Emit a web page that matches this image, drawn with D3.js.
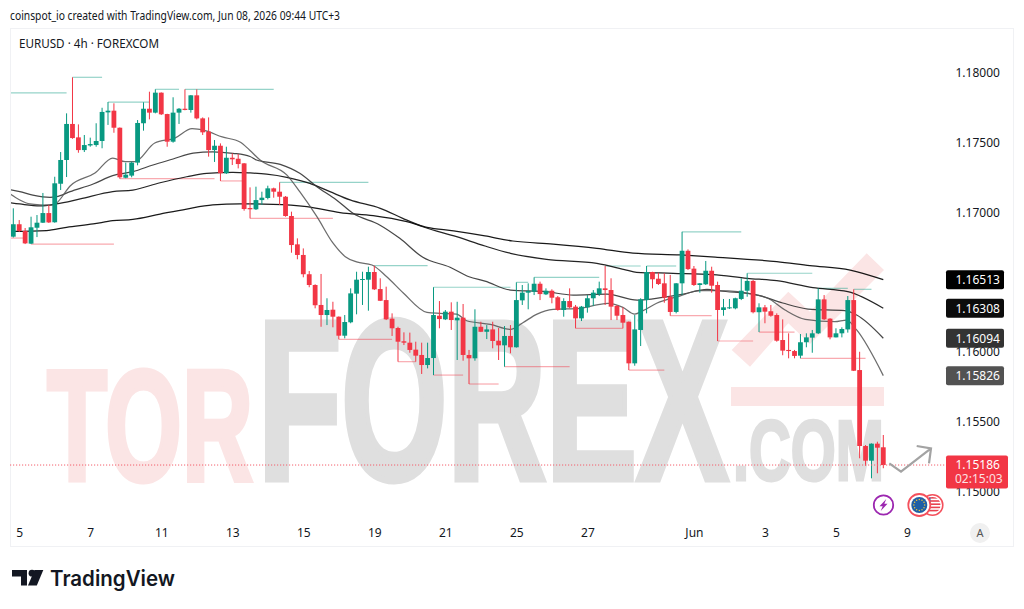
<!DOCTYPE html>
<html>
<head>
<meta charset="utf-8">
<title>EURUSD 4h</title>
<script src="https://cdn.jsdelivr.net/npm/d3@7/dist/d3.min.js"></script>
<style>
html,body{margin:0;padding:0;background:#fff;}
svg{display:block;}
text{font-family:"Noto Sans",sans-serif;fill:#131722;}
.domain{display:none;}
</style>
</head>
<body>
<svg id="chart" width="1024" height="609"></svg>
<script>
// EURUSD 4h candles, oldest first
const opens = [
1.16821,1.16910,1.16862,1.16771,1.16885,1.16921,1.16990,1.16924,1.17200,1.17370,
1.17628,1.17532,1.17441,1.17474,1.17477,1.17506,1.17711,1.17723,1.17601,1.17243,
1.17258,1.17351,1.17633,1.17737,1.17709,1.17852,1.17699,1.17501,1.17709,1.17737,
1.17728,1.17833,1.17668,1.17573,1.17441,1.17472,1.17275,1.17386,1.17379,1.17346,
1.17026,1.17017,1.17083,1.17098,1.17167,1.17143,1.17107,1.16969,1.16766,1.16690,
1.16552,1.16475,1.16332,1.16260,1.16298,1.16248,1.16112,1.16208,1.16413,1.16513,
1.16513,1.16568,1.16446,1.16367,1.16234,1.16167,1.16072,1.16062,1.16012,1.15974,
1.15902,1.15952,1.16255,1.16229,1.16284,1.16222,1.16241,1.15974,1.15950,1.16176,
1.16140,1.16157,1.16076,1.16043,1.16110,1.16029,1.16365,1.16420,1.16427,1.16484,
1.16408,1.16434,1.16387,1.16296,1.16360,1.16320,1.16236,1.16315,1.16380,1.16410,
1.16451,1.16439,1.16325,1.16260,1.16212,1.15914,1.16153,1.16367,1.16568,1.16520,
1.16487,1.16391,1.16282,1.16487,1.16720,1.16592,1.16475,1.16480,1.16577,1.16475,
1.16296,1.16308,1.16308,1.16375,1.16434,1.16504,1.16280,1.16315,1.16287,1.16260,
1.16081,1.16010,1.16002,1.15969,1.16065,1.16098,1.16129,1.16372,1.16234,1.16100,
1.16129,1.16157,1.16367,1.15866,1.15322,1.15217,1.15339,1.15313];
const highs = [
1.17024,1.16940,1.16883,1.16964,1.16976,1.17134,1.17048,1.17250,1.17427,1.17704,
1.17962,1.17625,1.17549,1.17530,1.17633,1.17744,1.17785,1.17776,1.17603,1.17351,
1.17358,1.17656,1.17783,1.17859,1.17876,1.17854,1.17701,1.17819,1.17742,1.17876,
1.17835,1.17876,1.17675,1.17675,1.17513,1.17489,1.17465,1.17418,1.17413,1.17348,
1.17174,1.17179,1.17143,1.17186,1.17172,1.17210,1.17112,1.17000,1.16809,1.16737,
1.16575,1.16480,1.16554,1.16380,1.16355,1.16250,1.16260,1.16451,1.16570,1.16570,
1.16606,1.16613,1.16523,1.16463,1.16272,1.16176,1.16136,1.16134,1.16069,1.16062,
1.16062,1.16459,1.16360,1.16296,1.16351,1.16355,1.16339,1.16010,1.16301,1.16212,
1.16188,1.16212,1.16167,1.16181,1.16188,1.16494,1.16475,1.16487,1.16530,1.16499,
1.16451,1.16444,1.16396,1.16380,1.16451,1.16332,1.16325,1.16403,1.16439,1.16499,
1.16611,1.16523,1.16332,1.16315,1.16214,1.16260,1.16380,1.16611,1.16570,1.16563,
1.16559,1.16547,1.16489,1.16856,1.16730,1.16611,1.16489,1.16647,1.16606,1.16499,
1.16375,1.16375,1.16384,1.16523,1.16559,1.16511,1.16344,1.16332,1.16332,1.16272,
1.16229,1.16129,1.16010,1.16124,1.16129,1.16153,1.16451,1.16403,1.16237,1.16165,
1.16172,1.16396,1.16444,1.15997,1.15329,1.15341,1.15353,1.15401];
const lows = [
1.16815,1.16854,1.16768,1.16768,1.16818,1.16919,1.16919,1.16921,1.17155,1.17248,
1.17522,1.17422,1.17427,1.17465,1.17465,1.17454,1.17621,1.17565,1.17236,1.17239,
1.17246,1.17332,1.17580,1.17661,1.17704,1.17692,1.17465,1.17494,1.17628,1.17726,
1.17709,1.17661,1.17549,1.17394,1.17356,1.17220,1.17270,1.17334,1.17310,1.17007,
1.16952,1.17012,1.17048,1.17088,1.17100,1.17048,1.16964,1.16706,1.16659,1.16530,
1.16459,1.16308,1.16176,1.16188,1.16172,1.16086,1.16093,1.16201,1.16265,1.16332,
1.16291,1.16439,1.16360,1.16224,1.16110,1.15926,1.16045,1.15990,1.15926,1.15838,
1.15878,1.15830,1.16165,1.16224,1.16153,1.15938,1.15933,1.15766,1.15933,1.16138,
1.16088,1.16022,1.15938,1.15890,1.15986,1.16027,1.16332,1.16301,1.16403,1.16367,
1.16403,1.16344,1.16291,1.16248,1.16308,1.16165,1.16217,1.16277,1.16325,1.16396,
1.16332,1.16224,1.16224,1.16165,1.15866,1.15897,1.16038,1.16272,1.16451,1.16475,
1.16348,1.16255,1.16272,1.16403,1.16582,1.16468,1.16420,1.16475,1.16420,1.16074,
1.16255,1.16303,1.16301,1.16367,1.16391,1.16272,1.16138,1.16201,1.16248,1.16069,
1.15972,1.15950,1.15950,1.15950,1.16029,1.15990,1.16124,1.16224,1.16086,1.16100,
1.16100,1.16134,1.15859,1.15234,1.15181,1.15091,1.15127,1.15163];
const closes = [
1.16910,1.16862,1.16773,1.16888,1.16921,1.16990,1.16923,1.17203,1.17370,1.17628,
1.17527,1.17441,1.17477,1.17484,1.17506,1.17714,1.17723,1.17601,1.17246,1.17265,
1.17351,1.17635,1.17737,1.17709,1.17852,1.17697,1.17501,1.17709,1.17737,1.17728,
1.17833,1.17668,1.17568,1.17441,1.17472,1.17275,1.17386,1.17375,1.17341,1.17019,
1.17017,1.17083,1.17100,1.17167,1.17143,1.17107,1.16969,1.16761,1.16690,1.16552,
1.16475,1.16330,1.16260,1.16296,1.16248,1.16112,1.16210,1.16415,1.16513,1.16518,
1.16568,1.16444,1.16362,1.16229,1.16165,1.16069,1.16062,1.16010,1.15969,1.15902,
1.15952,1.16260,1.16231,1.16284,1.16224,1.16241,1.15974,1.15950,1.16176,1.16140,
1.16157,1.16074,1.16043,1.16110,1.16029,1.16367,1.16420,1.16432,1.16484,1.16410,
1.16434,1.16384,1.16296,1.16360,1.16315,1.16236,1.16320,1.16380,1.16420,1.16451,
1.16439,1.16320,1.16255,1.16205,1.15914,1.16157,1.16372,1.16568,1.16516,1.16482,
1.16384,1.16282,1.16487,1.16720,1.16589,1.16475,1.16487,1.16577,1.16470,1.16296,
1.16315,1.16315,1.16380,1.16434,1.16504,1.16280,1.16315,1.16284,1.16255,1.16076,
1.16005,1.16002,1.15967,1.16065,1.16100,1.16129,1.16372,1.16229,1.16100,1.16129,
1.16160,1.16367,1.15861,1.15322,1.15217,1.15339,1.15310,1.15186];

// Moving averages: candle position and value at each knot, slowest first
const ma1Pos = [-1,5.6,9,13.5,16.8,20.2,24.8,29.3,33.7,38.3,43.9,49.6,55.2,60.8,66.5,69.9,74.4,79.7,84.4,91.2,98.6,104.7,112.7,118.6,129,134.6,141.4,147];
const ma1Val = [1.16858,1.16864,1.16888,1.16912,1.16935,1.16945,1.16983,1.17019,1.17048,1.17056,1.17053,1.17036,1.16993,1.16971,1.16928,1.16888,1.16862,1.16826,1.16790,1.16768,1.16738,1.16704,1.16690,1.16675,1.16642,1.16613,1.16582,1.16513];
const ma2Pos = [-1,1.1,4.5,7.3,11.3,16.8,20.2,24.8,29.3,32.7,37.1,40,42.8,46.2,50.1,53.5,56.9,62,65.8,69.2,74.9,79.7,84,90.1,98.6,103.6,105.3,111.5,118.2,124,129,135.1,141,147];
const ma2Val = [1.17067,1.17055,1.17041,1.17055,1.17091,1.17143,1.17155,1.17207,1.17250,1.17275,1.17282,1.17277,1.17268,1.17246,1.17203,1.17143,1.17084,1.17024,1.16952,1.16892,1.16821,1.16754,1.16702,1.16659,1.16630,1.16582,1.16566,1.16559,1.16550,1.16523,1.16506,1.16456,1.16427,1.16308];
const ma3Pos = [-1,1.1,3.3,6.2,7.3,9.6,13.5,16.8,20.2,23.6,27,30.4,33.7,37.1,40,41.1,45.1,48.4,51.3,54.6,57.4,61.9,65.3,69.2,73.8,77,79.7,84,90,94.6,100.3,105.4,109.8,113.2,117.2,119.4,125.6,130,134.3,140.5,142.5,147];
const ma3Val = [1.17162,1.17143,1.17119,1.17103,1.17107,1.17143,1.17198,1.17258,1.17286,1.17334,1.17377,1.17420,1.17429,1.17418,1.17395,1.17370,1.17339,1.17275,1.17179,1.17084,1.16988,1.16905,1.16809,1.16673,1.16602,1.16534,1.16503,1.16439,1.16427,1.16403,1.16410,1.16367,1.16387,1.16410,1.16444,1.16432,1.16405,1.16346,1.16303,1.16291,1.16260,1.16094];
const ma4Pos = [-1,1.1,2.8,4.5,6.5,7.3,9.6,13.8,16.8,18.9,20.5,23.9,27.3,30.2,32.4,35.3,38.3,39.9,41.7,46.2,48.4,51.3,54,56.1,58,60.6,63.1,65.9,69.9,72.1,74.9,76.6,80.6,84,86.1,88.4,91.2,95.8,98.6,100.5,103,105,106.4,108.7,112.6,116,119.2,125.6,127.5,130.4,133.8,138.8,140.8,142.5,147];
const ma4Val = [1.17141,1.17084,1.17055,1.17048,1.17046,1.17062,1.17184,1.17277,1.17384,1.17358,1.17358,1.17492,1.17527,1.17594,1.17580,1.17535,1.17499,1.17442,1.17370,1.17263,1.17143,1.16964,1.16776,1.16678,1.16640,1.16618,1.16534,1.16418,1.16279,1.16272,1.16267,1.16219,1.16193,1.16158,1.16205,1.16265,1.16301,1.16308,1.16332,1.16344,1.16315,1.16267,1.16291,1.16344,1.16396,1.16434,1.16434,1.16403,1.16380,1.16296,1.16229,1.16212,1.16224,1.16153,1.15826];

// Swing levels: pivot candle, last candle of the level
const resistanceFrom = [10,16,24,29,45,61,71,85,88,100,107,113,124,136,142];
const resistanceTo   = [15,23,28,44,60,70,84,87,99,106,112,123,135,141,145];
const supportFrom = [3,18,35,40,55,65,71,77,83,95,104,111,119,126,133];
const supportTo   = [17,34,39,54,64,68,76,82,94,103,110,118,125,132,144];
const earlierHigh = 1.17850, earlierHighEnd = 9;
const earlierLow = 1.16811, earlierLowEnd = 2;

const priceTicks = [1.18,1.175,1.17,1.16,1.155,1.15];
const timeTickPos = [1,13,25,37,49,61,73,85,97,115,127,139,151];
const timeTickLabels = ["5","7","11","13","15","19","21","25","27","Jun","3","5","9"];
const maColors = ["#000000","#0c0c0c","#333333","#525252"];
const lastPrice = 1.15186;
const countdown = "02:15:03";

const UP = "#089981", DOWN = "#f23645";
const svg = d3.select("#chart");
const x = d3.scaleLinear().domain([0,147]).range([13.3,883.3]);
const y = d3.scaleLinear().domain([1.15,1.18]).range([491,72]);

// Pane frame
svg.append("rect").attr("x",10.5).attr("y",28.5).attr("width",1003).attr("height",518)
  .attr("fill","#fff").attr("stroke","#f0f1f4");

svg.append("defs").append("clipPath").attr("id","pane")
  .append("rect").attr("x",11).attr("y",29).attr("width",935).attr("height",517);

// Background brand mark
const wm = svg.append("g");
function brand(txt,x0,base,size,w,col,sw){
  wm.append("text").text(txt).attr("x",x0).attr("y",base)
    .attr("textLength",w).attr("lengthAdjust","spacingAndGlyphs")
    .style("font-family","'Liberation Sans'").style("font-weight",700)
    .style("font-size",size+"px").style("fill",col)
    .style("stroke",col).style("stroke-width",sw).style("stroke-linejoin","miter");
}
brand("TOR",47,479.5,158,206,"#fbe5e5",5);
brand("FOREX",258,478.5,226,470,"#dfdfdf",7);
brand(".COM",733,479.5,86,151,"#dfdfdf",3);
wm.append("rect").attr("x",731).attr("y",387).attr("width",153).attr("height",19).attr("fill","#fbe5e5");
wm.append("path").attr("fill","#fbe5e5")
  .attr("d","M731.7 350L788.3 291.7L810 311.7L866.7 253.3L884 270L810 344L788.3 323.3L750 366.7Z");

const plot = svg.append("g").attr("clip-path","url(#pane)");

// Swing levels sit behind the candles
function level(x0,x1,p,col){
  plot.append("line").attr("x1",x(x0)).attr("x2",x(x1)).attr("y1",y(p)).attr("y2",y(p))
    .attr("stroke",col).attr("stroke-width",1.2).attr("opacity",.42);
}
resistanceFrom.forEach((s,k)=>level(s,resistanceTo[k],highs[s],UP));
supportFrom.forEach((s,k)=>level(s,supportTo[k],lows[s],DOWN));
level(-2,earlierHighEnd,earlierHigh,UP);
level(-2,earlierLowEnd,earlierLow,DOWN);

// Moving averages
const maLine = d3.line().x(d=>x(d[0])).y(d=>y(d[1])).curve(d3.curveMonotoneX);
[[ma1Pos,ma1Val],[ma2Pos,ma2Val],[ma3Pos,ma3Val],[ma4Pos,ma4Val]].forEach(([p,v],k)=>{
  plot.append("path").attr("d",maLine(d3.zip(p,v))).attr("fill","none")
    .attr("stroke",maColors[k]).attr("stroke-width",1.25).attr("opacity",k===3?.85:.9);
});

// Candles
const candles = plot.append("g").selectAll("g").data(d3.range(opens.length)).join("g")
  .attr("fill",i=>closes[i]>=opens[i]?UP:DOWN);
candles.append("rect").attr("x",i=>x(i)-.5).attr("width",1)
  .attr("y",i=>y(highs[i])).attr("height",i=>y(lows[i])-y(highs[i]));
candles.append("rect").attr("x",i=>x(i)-2.4).attr("width",4.8)
  .attr("y",i=>y(Math.max(opens[i],closes[i])))
  .attr("height",i=>Math.max(1,Math.abs(y(opens[i])-y(closes[i]))));

// Last price line
svg.append("line").attr("x1",10).attr("x2",946).attr("y1",y(lastPrice)).attr("y2",y(lastPrice))
  .attr("stroke","#f4606c").attr("stroke-width",1).attr("stroke-dasharray","1.2 1.8");

// Sketched arrow
svg.append("path").attr("d","M889.3 463.3L901 471.7L931 448.3M916.7 446L931 448.3L929 463.3")
  .attr("fill","none").attr("stroke","#a3a3a3").attr("stroke-width",2.2);

// Axes
const timeAxis = d3.axisBottom(x).tickValues(timeTickPos).tickSize(0).tickPadding(0)
  .tickFormat(d=>timeTickLabels[timeTickPos.indexOf(d)]);
svg.append("g").attr("transform","translate(0,528)").call(timeAxis)
  .call(g=>g.selectAll("text").style("font-size","12px").style("font-family","'Noto Sans'").style("fill","#131722"));
const priceAxis = d3.axisRight(y).tickValues(priceTicks).tickSize(0).tickPadding(0)
  .tickFormat(d=>d.toFixed(5));
svg.append("g").attr("transform","translate(955.5,0.6)").call(priceAxis)
  .call(g=>g.selectAll("text").style("font-size","12px").style("font-family","'Noto Sans'").style("fill","#131722"));

// Latest value badges
maColors.forEach((c,k)=>{
  const v = [ma1Val,ma2Val,ma3Val,ma4Val][k];
  const last = v[v.length-1];
  svg.append("rect").attr("x",946).attr("y",y(last)-9.5).attr("width",58).attr("height",19)
    .attr("rx",2).attr("fill",c);
  svg.append("text").text(last.toFixed(5)).attr("x",955.5).attr("y",y(last)+4.3)
    .style("font-size","12px").style("fill","#fff");
});
svg.append("rect").attr("x",946).attr("y",y(lastPrice)-9.5).attr("width",62).attr("height",33)
  .attr("rx",2).attr("fill",DOWN);
svg.append("text").text(lastPrice.toFixed(5)).attr("x",955.5).attr("y",y(lastPrice)+4.3)
  .style("font-size","12px").style("fill","#fff");
svg.append("text").text(countdown).attr("x",955).attr("y",y(lastPrice)+18.2)
  .style("font-size","12px").style("fill","#fff").style("opacity",.85);

// Autoscale button
svg.append("circle").attr("cx",980).attr("cy",533).attr("r",10).attr("fill","#f0f0f0");
svg.append("text").text("A").attr("x",980).attr("y",537).attr("text-anchor","middle")
  .style("font-size","11px").style("fill","#555");

// Headers
svg.append("text").text("coinspot_io created with TradingView.com, Jun 08, 2026 09:44 UTC+3")
  .attr("x",10).attr("y",20).style("font-size","12px").attr("textLength",330).attr("lengthAdjust","spacingAndGlyphs");
svg.append("text").text("EURUSD · 4h · FOREXCOM")
  .attr("x",19).attr("y",48).style("font-size","12px").attr("textLength",140).attr("lengthAdjust","spacingAndGlyphs");

// Dividends badge
const bolt = svg.append("g").attr("transform","translate(883.5,505)");
bolt.append("circle").attr("r",9.7).attr("fill","#fff").attr("stroke","#9c27b0").attr("stroke-width",1.8);
bolt.append("path").attr("d","M2.8 -6L-4 1.2H-0.8L-2.8 6L4 -1.2H0.8Z").attr("fill","#9c27b0");

// Currency pair flags
const us = svg.append("g").attr("transform","translate(932.5,505)");
us.append("circle").attr("r",10.3).attr("fill","#fff").attr("stroke","#f4505c").attr("stroke-width",1.6);
us.append("clipPath").attr("id","usflag").append("circle").attr("r",8);
const usBody = us.append("g").attr("clip-path","url(#usflag)");
d3.range(-8,8,3.2).forEach(v=>usBody.append("rect").attr("x",-9).attr("y",v).attr("width",18).attr("height",1.6).attr("fill","#e8414f"));
usBody.append("rect").attr("x",-9).attr("y",-9).attr("width",7).attr("height",8).attr("fill","#3c5aa6");
const eu = svg.append("g").attr("transform","translate(919.3,505)");
eu.append("circle").attr("r",11).attr("fill","#fff").attr("stroke","#f4505c").attr("stroke-width",1.8);
eu.append("circle").attr("r",8).attr("fill","#1f5fa6");
d3.range(12).forEach(k=>{
  const a = k/12*Math.PI*2;
  eu.append("circle").attr("cx",5.4*Math.cos(a)).attr("cy",5.4*Math.sin(a)).attr("r",.75).attr("fill","#f2c438");
});

// TradingView wordmark
const logo = svg.append("g").attr("transform","translate(12,569.5)").attr("fill","#131722");
logo.append("path").attr("d","M0 0.5H15V16H9V7H0Z");
logo.append("circle").attr("cx",20).attr("cy",3.7).attr("r",3.4);
logo.append("path").attr("d","M22.5 0.5H31.3L24.8 16H16Z");
svg.append("text").text("TradingView").attr("x",50).attr("y",586)
  .style("font-family","Inter").style("font-weight",600).style("font-size","21px").style("fill","#131722")
  .attr("textLength",125).attr("lengthAdjust","spacingAndGlyphs");
</script>
</body>
</html>
